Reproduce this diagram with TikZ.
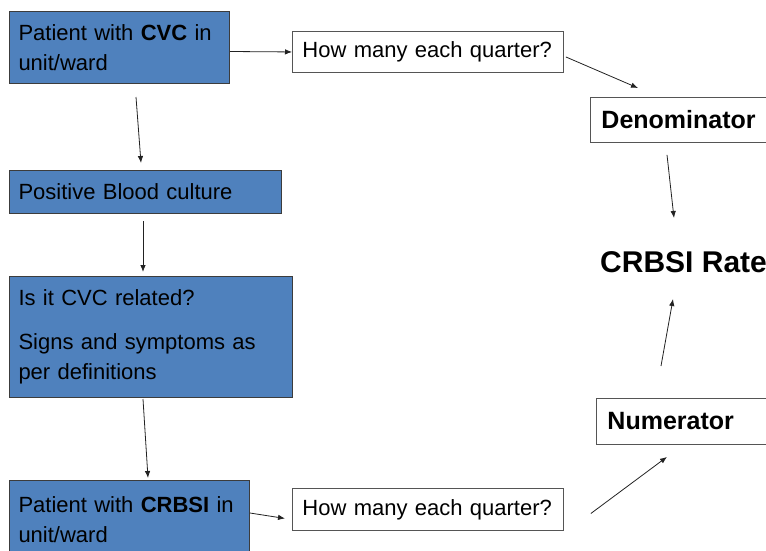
\documentclass[tikz,border=0pt]{standalone}
\usepackage{fontspec}
\setmainfont{Liberation Sans}
\usetikzlibrary{arrows.meta}
\definecolor{boxblue}{HTML}{4F81BD}
\definecolor{bluebord}{HTML}{3C3C3C}
\definecolor{greybord}{HTML}{555555}
\definecolor{arrowc}{HTML}{222222}
\tikzset{
  bluebox/.style={draw=bluebord, fill=boxblue, line width=1pt, anchor=north west,
    inner xsep=9pt, inner ysep=0pt, align=left, font=\fontsize{22}{30}\selectfont},
  whitebox/.style={draw=greybord, fill=white, line width=0.9pt, anchor=north west,
    inner xsep=10pt, inner ysep=0pt, align=left, font=\fontsize{22}{30}\selectfont},
  boldbox/.style={draw=greybord, fill=white, line width=0.9pt, anchor=north west,
    inner xsep=11pt, inner ysep=0pt, align=left, font=\fontsize{25}{30}\selectfont\bfseries},
  conn/.style={draw=arrowc, line width=0.8pt, -{Latex[length=7pt,width=5.5pt]}}
}
\begin{document}
\begin{tikzpicture}[x=1pt,y=1pt]
\useasboundingbox (0,0) rectangle (766,-550);
\clip (0,0) rectangle (766,-550);

\node[bluebox, minimum width=220, minimum height=72, text width=202] (b1) at (9,-11)
  {Patient with \textbf{CVC} in\\unit/ward};
\node[bluebox, minimum width=272, minimum height=43, text width=254] (b2) at (9,-170)
  {Positive Blood culture};
\node[bluebox, minimum width=283, minimum height=121, text width=265] (b3) at (9,-276)
  {Is it CVC related?\\[14pt]Signs and symptoms as\\per definitions};
\node[bluebox, minimum width=240, minimum height=79, text width=222] (b4) at (9,-480)
  {Patient with \textbf{CRBSI} in\\unit/ward};

\node[whitebox, minimum width=271, minimum height=41, text width=251] (q1) at (292,-31)
  {How many each quarter?};
\node[whitebox, minimum width=271, minimum height=42, text width=251] (q2) at (292,-488)
  {How many each quarter?};

\node[boldbox, minimum width=200, minimum height=45, text width=178] (den) at (590,-97)
  {Denominator};
\node[boldbox, minimum width=200, minimum height=46, text width=178] (num) at (596,-398)
  {Numerator};
\node[anchor=base west, inner sep=0pt, font=\fontsize{30}{36}\selectfont\bfseries] (rate) at (600,-272)
  {CRBSI Rate};

\draw[conn] ([yshift=-4pt]b1.east) -- (q1.west);
\draw[conn] ([shift={(2pt,-5pt)}]q1.east) -- ([shift={(48pt,9pt)}]den.north west);
\draw[conn] ([shift={(77pt,-12pt)}]den.south west) -- ([shift={(74pt,54pt)}]rate.base west);
\draw[conn] ([shift={(61pt,-94pt)}]rate.base west) -- ([shift={(73pt,-27pt)}]rate.base west);
\draw[conn] ([shift={(27pt,-4pt)}]q2.east) -- ([shift={(71pt,-12pt)}]num.south west);
\draw[conn] ([shift={(127pt,-13pt)}]b1.south west) -- ([shift={(132pt,7pt)}]b2.north west);
\draw[conn] ([shift={(134pt,-7pt)}]b2.south west) -- ([shift={(134pt,4pt)}]b3.north west);
\draw[conn] ([shift={(134pt,-1pt)}]b3.south west) -- ([shift={(139pt,2pt)}]b4.north west);
\draw[conn] ([yshift=-33pt]b4.north east) -- ([shift={(-7pt,-9pt)}]q2.west);
\end{tikzpicture}
\end{document}
